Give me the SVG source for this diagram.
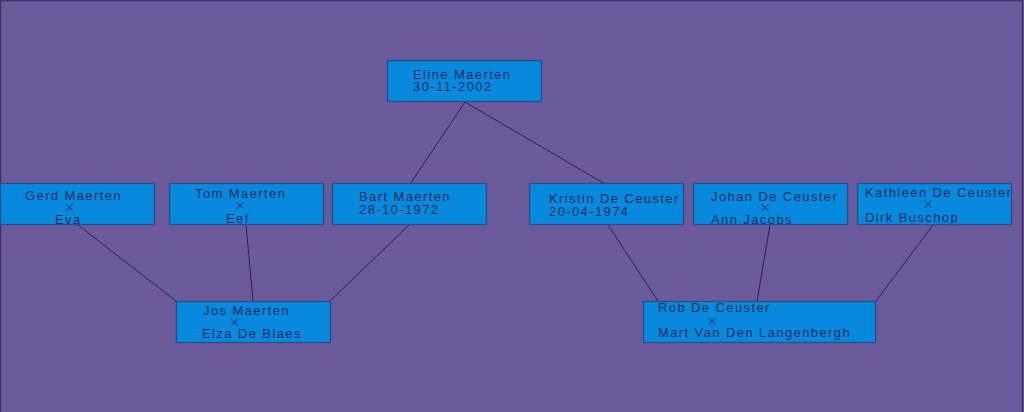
<svg xmlns="http://www.w3.org/2000/svg" width="1024" height="412" viewBox="0 0 1024 412">
<style>
.bg{fill:#6b5a9c}
.box{fill:#0789dd;stroke:#23508a;stroke-width:1.3}
.t{font-family:"Liberation Sans",Arial,sans-serif;font-size:13px;fill:#1a2d5e;letter-spacing:1.4px}
.x{font-family:"DejaVu Sans",sans-serif;font-size:14px;font-weight:200;fill:#1a2d5e;text-anchor:middle}
.c line{stroke:#2b2350;stroke-width:1}
</style>
<rect class="bg" x="0" y="0" width="1024" height="412"/>
<path d="M0.5,412 V0.5 H1022.5 V412" fill="none" stroke="#3e3660" stroke-width="1.5"/>
<g id="connectors" class="c">
<line x1="465" y1="102" x2="410" y2="184"/>
<line x1="465" y1="102" x2="605" y2="184"/>
<line x1="78" y1="225" x2="176" y2="301"/>
<line x1="246" y1="225" x2="253" y2="301"/>
<line x1="409" y1="225" x2="330" y2="301"/>
<line x1="608" y1="225" x2="658" y2="301"/>
<line x1="770" y1="225" x2="757" y2="301"/>
<line x1="933" y1="225" x2="876" y2="301"/>
</g>
<g id="eline">
<rect class="box" x="387.5" y="60.5" width="154" height="41"/>
<text class="t" x="413" y="78.5">Eline Maerten</text>
<text class="t" x="413" y="90.5">30-11-2002</text>
</g>
<g id="gerd">
<rect class="box" x="0.5" y="183.5" width="154" height="41"/>
<text class="t" x="25" y="200">Gerd Maerten</text>
<text class="x" x="69.5" y="212">×</text>
<text class="t" x="55" y="224">Eva</text>
</g>
<g id="tom">
<rect class="box" x="169.5" y="183.5" width="154" height="41"/>
<text class="t" x="195" y="198">Tom Maerten</text>
<text class="x" x="240" y="210">×</text>
<text class="t" x="226" y="222.5">Eef</text>
</g>
<g id="bart">
<rect class="box" x="332.5" y="183.5" width="154" height="41"/>
<text class="t" x="359" y="201">Bart Maerten</text>
<text class="t" x="359" y="214">28-10-1972</text>
</g>
<g id="jos">
<rect class="box" x="176.5" y="301.5" width="154" height="41"/>
<text class="t" x="203" y="314.5">Jos Maerten</text>
<text class="x" x="234.5" y="326.5">×</text>
<text class="t" x="202" y="338">Elza De Blaes</text>
</g>
<g id="kristin">
<rect class="box" x="529.5" y="183.5" width="154" height="41"/>
<text class="t" x="549" y="203">Kristin De Ceuster</text>
<text class="t" x="549" y="215.5">20-04-1974</text>
</g>
<g id="johan">
<rect class="box" x="693.5" y="183.5" width="154" height="41"/>
<text class="t" x="711" y="200.5">Johan De Ceuster</text>
<text class="x" x="765" y="212">×</text>
<text class="t" x="711" y="224">Ann Jacobs</text>
</g>
<g id="kathleen">
<rect class="box" x="857.5" y="183.5" width="154" height="41"/>
<text class="t" x="865" y="196.5">Kathleen De Ceuster</text>
<text class="x" x="928" y="209">×</text>
<text class="t" x="865" y="221.5">Dirk Buschop</text>
</g>
<g id="rob">
<rect class="box" x="643.5" y="301.5" width="232" height="41"/>
<text class="t" x="658" y="312">Rob De Ceuster</text>
<text class="x" x="712" y="326">×</text>
<text class="t" x="658" y="337">Mart Van Den Langenbergh</text>
</g>
</svg>
